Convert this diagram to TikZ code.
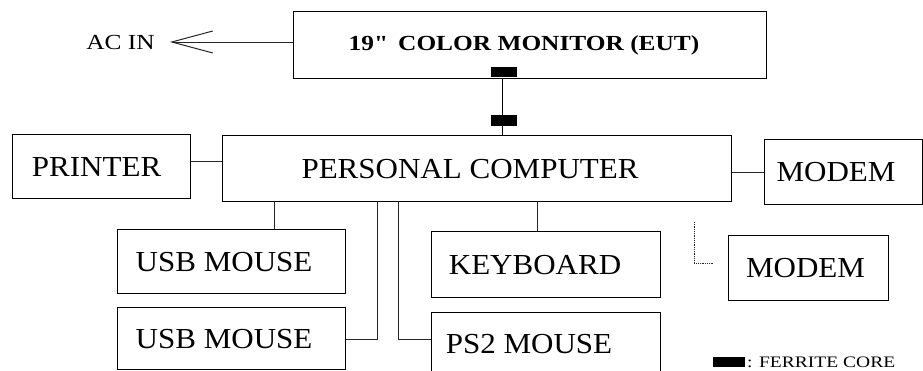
\documentclass[tikz,border=0pt]{standalone}
\usepackage{fontspec}
\setmainfont{Liberation Serif}
\newfontfamily\boxfont[FakeStretch=1.07]{Liberation Serif}
\newfontfamily\monfont[FakeStretch=1.18]{Liberation Serif}
\newfontfamily\acfont[FakeStretch=1.18]{Liberation Serif}
\newfontfamily\legfont[FakeStretch=1.22]{Liberation Serif}
\usetikzlibrary{arrows.meta}
\begin{document}
\begin{tikzpicture}[x=1pt,y=-1pt,
  box/.style={draw, line width=1.1pt, inner sep=0pt, anchor=north west,
    font=\boxfont\fontsize{29}{30}\selectfont},
  wire/.style={line width=0.8pt, draw=black!85},
  core/.style={fill=black}]
\useasboundingbox (0,0) rectangle (923,371);
\clip (0,0) rectangle (923,371);
% boxes
\node[box, minimum width=473pt, minimum height=67pt,
  font=\monfont\bfseries\fontsize{21.5}{22}\selectfont] (mon) at (293,11)
  {19"\hspace{10pt}COLOR MONITOR (EUT)\hspace*{12pt}};
\node[box, minimum width=509pt, minimum height=66pt] (pc) at (222,135) {PERSONAL COMPUTER\hspace*{14pt}};
\node[box, minimum width=178pt, minimum height=64pt] (printer) at (12,134) {\raisebox{0pt}{PRINTER}\hspace*{10pt}};
\node[box, minimum width=158pt, minimum height=65pt] (modemA) at (764,139) {MODEM\hspace*{15pt}};
\node[box, minimum width=228pt, minimum height=64pt] (usbA) at (117,229) {USB MOUSE\hspace*{15pt}};
\node[box, minimum width=228pt, minimum height=62pt] (usbB) at (117,307) {USB MOUSE\hspace*{15pt}};
\node[box, minimum width=229pt, minimum height=66pt] (kb) at (431,231) {KEYBOARD\hspace*{22pt}};
\node[box, minimum width=229pt, minimum height=62pt] (ps2) at (431,312) {PS2 MOUSE\hspace*{34pt}};
\node[box, minimum width=160pt, minimum height=65pt] (modemB) at (728,235) {MODEM\hspace*{6pt}};
% AC IN
\node[inner xsep=15pt, inner ysep=0pt, font=\acfont\fontsize{21.5}{22}\selectfont] (acin) at (120.5,42) {AC IN};
\draw[wire, -{Straight Barb[length=41pt,width=22pt,line width=1pt]}] (mon.west |- acin.east) -- (acin.east);
% monitor to PC with ferrite cores
\coordinate (cx) at (502,0);
\draw[line width=1pt] (mon.south -| cx) -- (pc.north -| cx);
\fill[core] (491,67) rectangle (517,77);
\fill[core] (491,115) rectangle (517,126);
% printer, modem
\coordinate (yp) at (0,161);
\draw[wire] (printer.east |- yp) -- (pc.west |- yp);
\draw[wire] (pc.east |- modemA.west) -- (modemA.west);
% lower devices
\coordinate (xu1) at (274,0);
\draw[wire] (pc.south -| xu1) -- (usbA.north -| xu1);
\coordinate (xu2) at (377,339);
\draw[wire] (pc.south -| xu2) -- (xu2) -- (usbB.east |- xu2);
\coordinate (xp) at (398,339);
\draw[wire] (pc.south -| xp) -- (xp) -- (ps2.west |- xp);
\coordinate (xk) at (537,0);
\draw[wire] (pc.south -| xk) -- (kb.north -| xk);
\coordinate (m2a) at (694,222);
\coordinate (m2b) at (694,263);
\coordinate (m2c) at (713,263);
\draw[wire, densely dotted] (m2a) -- (m2b) -- (m2c);
% legend
\fill[core] (713,357) rectangle (745,367);
\node[anchor=west, inner sep=0pt, font=\legfont\fontsize{16}{16}\selectfont] (leg) at (747,362) {: FERRITE CORE};
\end{tikzpicture}
\end{document}
